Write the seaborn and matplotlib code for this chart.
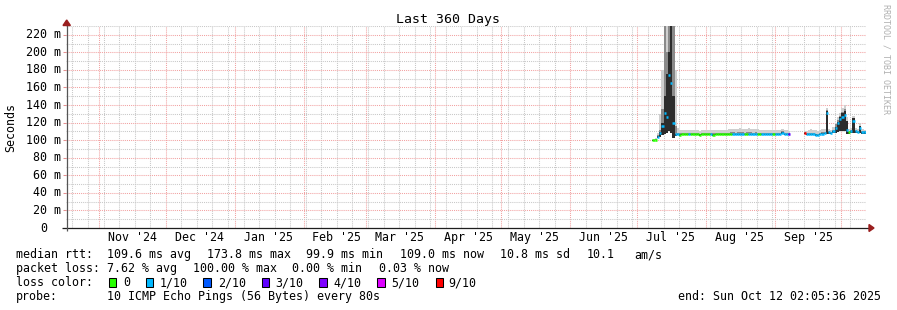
import numpy as np
import pandas as pd
import matplotlib
matplotlib.use("Agg")
import matplotlib.pyplot as plt
import matplotlib.dates as mdates
from matplotlib.patches import Rectangle, Polygon
from matplotlib.ticker import FixedLocator, MultipleLocator
import seaborn as sns

# ------------------------------------------------------------------ data
# one sample per day, 2025-07-08 .. 2025-10-12 (Sep 8-13: no data)
day_start = "2025-07-08"
day_end = "2025-10-12"
nan = np.nan

median_ms = [
    100.0, 100.5, 104.0, 108.0, 116.0, 131.0, 126.0, 174.0, 165.0, 120.0,   # Jul 8-17
    106.5, 106.5, 106.0, 106.5, 106.5, 106.5, 107.0, 106.5, 106.5, 106.5,   # Jul 18-27
    106.5, 106.0, 106.5, 106.5, 106.5, 106.5, 106.5, 106.0, 106.5, 106.5,   # Jul 28-Aug 6
    106.5, 106.5, 106.5, 106.5, 106.5, 106.5, 107.0, 106.5, 106.5, 106.5,   # Aug 7-16
    106.5, 106.5, 106.5, 106.5, 106.5, 106.5, 106.5, 106.5, 106.5, 106.5,   # Aug 17-26
    106.5, 106.5, 106.5, 106.5, 106.5, 106.5, 107.0, 106.5, 108.5, 106.5,   # Aug 27-Sep 5
    106.5, 106.5,                                                           # Sep 6-7
    nan, nan, nan, nan, nan, nan,                                           # Sep 8-13
    108.0, 107.0, 107.0, 107.0, 106.5, 106.0, 105.5, 107.0, 107.5, 108.0,   # Sep 14-23
    131.0, 109.0, 108.0, 110.0, 114.0, 120.0, 124.0,                        # Sep 24-30
    126.0, 129.0, 112.0, 109.0, 110.0, 122.0, 110.0, 109.0, 114.0, 109.0,   # Oct 1-10
    109.0, 109.0,                                                           # Oct 11-12
]
loss_tenths = [
    0, 0, 1, 1, 1, 1, 1, 1, 1, 1,
    1, 1, 0, 0, 0, 0, 1, 0, 0, 0,
    0, 0, 0, 0, 0, 0, 1, 0, 0, 0,
    0, 0, 0, 0, 0, 0, 1, 1, 1, 1,
    1, 0, 0, 1, 1, 1, 1, 0, 0, 1,
    1, 1, 1, 1, 0, 1, 1, 1, 1, 1,
    1, 3,
    0, 0, 0, 0, 0, 0,
    9, 1, 1, 1, 1, 1, 1, 1, 1, 1,
    1, 1, 1, 1, 1, 1, 1,
    1, 1, 1, 0, 1, 1, 1, 1, 1, 1,
    1, 1,
]
ping_min_ms = [
    99.5, 100.0, 102.0, 104.0, 106.0, 107.0, 108.0, 110.0, 108.0, 102.0,
    105.0, 105.5, 105.0, 105.5, 105.5, 105.5, 106.0, 105.5, 105.5, 105.5,
    105.5, 105.0, 105.5, 105.5, 105.5, 105.5, 105.5, 105.0, 105.5, 105.5,
    105.5, 105.5, 105.5, 105.5, 105.5, 105.5, 106.0, 105.5, 105.5, 105.5,
    105.5, 105.5, 105.5, 105.5, 105.5, 105.5, 105.5, 105.5, 105.5, 105.5,
    105.5, 105.5, 105.5, 105.5, 105.5, 105.5, 106.0, 105.5, 106.5, 105.5,
    105.5, 105.5,
    nan, nan, nan, nan, nan, nan,
    106.5, 106.0, 106.0, 106.0, 105.5, 105.0, 104.5, 106.0, 106.5, 107.0,
    107.5, 107.5, 107.0, 108.0, 108.0, 109.0, 110.0,
    110.0, 111.0, 107.0, 107.5, 108.5, 108.5, 108.5, 108.0, 108.0, 107.5,
    107.5, 107.5,
]
core_hi_ms = [
    100.2, 100.7, 104.5, 109.0, 120.0, 150.0, 175.0, 200.0, 235.0, 150.0,
    107.0, 107.0, 106.5, 107.0, 107.0, 107.0, 107.5, 107.0, 107.0, 107.0,
    107.0, 106.5, 107.0, 107.0, 107.0, 107.0, 107.0, 106.5, 107.0, 107.0,
    107.0, 107.0, 107.0, 107.0, 107.0, 107.0, 107.5, 107.0, 107.0, 107.0,
    107.0, 107.0, 107.0, 107.0, 107.0, 107.0, 107.0, 107.0, 107.0, 107.0,
    107.0, 107.0, 107.0, 107.0, 107.0, 107.0, 107.5, 107.0, 109.0, 107.0,
    107.0, 107.0,
    nan, nan, nan, nan, nan, nan,
    108.5, 107.5, 107.5, 107.5, 107.0, 106.5, 106.0, 107.5, 108.0, 108.5,
    133.0, 109.5, 108.5, 111.0, 115.0, 121.0, 126.0,
    131.0, 133.0, 122.0, 109.5, 110.5, 125.0, 110.5, 109.5, 116.0, 109.5,
    109.5, 109.5,
]
mid_hi_ms = [
    100.5, 101.0, 106.0, 112.0, 135.0, 235.0, 200.0, 235.0, 235.0, 235.0,
    116.0, 108.5, 108.0, 108.0, 108.0, 108.0, 108.5, 108.0, 108.0, 108.0,
    108.0, 107.5, 108.0, 108.0, 108.0, 108.0, 108.5, 108.0, 108.0, 108.0,
    108.0, 108.0, 108.5, 108.5, 108.5, 109.0, 109.0, 108.5, 109.0, 109.0,
    109.0, 108.5, 109.0, 109.0, 109.0, 108.5, 109.0, 108.5, 108.5, 108.5,
    108.5, 108.5, 108.0, 108.0, 108.0, 108.0, 108.5, 108.5, 110.0, 108.0,
    108.0, 108.0,
    nan, nan, nan, nan, nan, nan,
    109.0, 108.5, 108.5, 108.5, 108.0, 107.5, 107.0, 108.5, 109.0, 109.5,
    134.0, 110.0, 109.5, 112.0, 118.0, 123.0, 127.0,
    132.0, 135.0, 120.0, 110.5, 111.5, 125.0, 111.5, 110.5, 116.0, 110.5,
    110.5, 110.0,
]
ping_max_ms = [
    101.0, 102.0, 108.0, 130.0, 180.0, 235.0, 235.0, 235.0, 235.0, 235.0,
    180.0, 114.0, 112.0, 112.0, 111.5, 111.5, 112.0, 111.5, 111.5, 111.5,
    111.5, 111.0, 111.5, 111.5, 111.5, 111.5, 112.0, 111.5, 111.5, 111.5,
    111.5, 111.5, 112.0, 112.0, 112.5, 113.0, 113.0, 112.5, 113.0, 113.5,
    113.0, 112.5, 113.0, 113.5, 113.0, 112.5, 113.0, 112.5, 112.0, 112.0,
    112.0, 112.0, 111.5, 111.5, 111.5, 111.5, 112.0, 112.0, 113.0, 111.5,
    111.5, 111.0,
    nan, nan, nan, nan, nan, nan,
    110.0, 111.0, 112.0, 112.5, 112.0, 111.5, 111.0, 112.0, 112.5, 113.0,
    137.0, 113.0, 112.0, 115.0, 120.0, 126.0, 131.0,
    137.0, 140.0, 126.0, 113.0, 114.0, 128.0, 114.0, 113.0, 119.0, 113.0,
    112.0, 112.0,
]

loss_levels = [0, 1, 2, 3, 4, 5, 9]
loss_colors = ["#26ff00", "#00b8ff", "#0059ff", "#5e00ff", "#7e00ff", "#dd00ff", "#ff0000"]
loss_names = ["0", "1/10", "2/10", "3/10", "4/10", "5/10", "9/10"]

y_ticks = [0, 20, 40, 60, 80, 100, 120, 140, 160, 180, 200, 220]
y_tick_labels = ["0", "20 m", "40 m", "60 m", "80 m", "100 m", "120 m",
                 "140 m", "160 m", "180 m", "200 m", "220 m"]
month_labels = ["Nov '24", "Dec '24", "Jan '25", "Feb '25", "Mar '25", "Apr '25",
                "May '25", "Jun '25", "Jul '25", "Aug '25", "Sep '25"]
month_label_dates = ["2024-11-16", "2024-12-16", "2025-01-16", "2025-02-16",
                     "2025-03-16", "2025-04-16", "2025-05-16", "2025-06-16",
                     "2025-07-16", "2025-08-16", "2025-09-16"]
graph_end = "2025-10-12 02:05:36"
span_days = 360

title = "Last 360 Days"
ylabel = "Seconds"
watermark = "RRDTOOL / TOBI OETIKER"
rtt_items = ["median rtt:", "109.6 ms avg", "173.8 ms max", "99.9 ms min",
             "109.0 ms now", "10.8 ms sd", "10.1", "am/s"]
loss_items = ["packet loss:", "7.62 % avg", "100.00 % max", "0.00 % min", "0.03 % now"]
probe_text = "10 ICMP Echo Pings (56 Bytes) every 80s"
end_text = "end: Sun Oct 12 02:05:36 2025"

# ------------------------------------------------------------------ style
sns.set_theme(style="white")
plt.rcParams["font.family"] = ["DejaVu Sans Mono"]
FS = 8.4
W, H = 897, 310
fig = plt.figure(figsize=(W / 100, H / 100), dpi=100)
fig.patch.set_facecolor("white")

def fx(px):
    return px / W

def fy(py):
    return 1 - py / H

AX_L, AX_R, AX_T, AX_B = 66, 866, 26, 228
ax = fig.add_axes([fx(AX_L), fy(AX_B), (AX_R - AX_L) / W, (AX_B - AX_T) / H])
ax.set_facecolor("white")

end = pd.Timestamp(graph_end)
start = end - pd.Timedelta(days=span_days)
ax.set_xlim(start, end)
ax.set_ylim(0, 230)

dates = pd.date_range(day_start, day_end, freq="D")
lo = np.array(ping_min_ms)
# smoke layers
ax.bar(dates, np.array(ping_max_ms) - lo, bottom=lo, width=1.0, align="edge",
       color="#cfcfcf", linewidth=0, zorder=2)
ax.bar(dates, np.array(mid_hi_ms) - lo, bottom=lo, width=1.0, align="edge",
       color="#8a8a8a", linewidth=0, zorder=3)
ax.bar(dates, np.array(core_hi_ms) - lo, bottom=lo, width=1.0, align="edge",
       color="#2c2c2c", linewidth=0, zorder=4)

# median: one short dash per sample, coloured by packet loss
df = pd.DataFrame({"date": dates, "median": median_ms, "loss": loss_tenths})
df["sample"] = np.arange(len(df))
df = df[df["median"].notna()]
df_end = df.copy()
df_end["date"] = df_end["date"] + pd.Timedelta(days=1)
dashes = pd.concat([df, df_end]).sort_values(["sample", "date"], ignore_index=True)
sns.lineplot(data=dashes, x="date", y="median", hue="loss", units="sample",
             estimator=None, palette=dict(zip(loss_levels, loss_colors)),
             linewidth=1.8, legend=False, ax=ax, sort=False, zorder=5,
             solid_capstyle="butt")

# grid
ax.yaxis.set_major_locator(FixedLocator(y_ticks))
ax.yaxis.set_minor_locator(MultipleLocator(10))
ax.xaxis.set_major_locator(mdates.MonthLocator())
ax.xaxis.set_minor_locator(mdates.WeekdayLocator(byweekday=mdates.SU))
ax.set_axisbelow(True)
ax.grid(which="minor", color="#c8c8c8", linestyle=(0, (1, 1)), linewidth=0.75, zorder=0)
ax.grid(which="major", color="#f2a2a2", linestyle=(0, (1, 1)), linewidth=0.75, zorder=1)
ax.tick_params(axis="x", which="both", length=0, labelbottom=False)
ax.tick_params(axis="y", which="major", length=2.2, width=0.75, color="#e59090",
               labelleft=False, left=True)
ax.tick_params(axis="y", which="minor", length=0)
ax.set_xlabel("")
ax.set_ylabel("")
for s in ax.spines.values():
    s.set_visible(False)

# y tick labels
ytr = ax.get_yaxis_transform()
for v, lab in zip(y_ticks, y_tick_labels):
    xoff = -5.5 if lab != "0" else -19.0
    ax.text(xoff / 800, v, lab, transform=ytr, ha="right", va="center",
            fontsize=FS, color="black")

# x month labels
xtr = ax.get_xaxis_transform()
for d, lab in zip(month_label_dates, month_labels):
    ax.text(mdates.date2num(pd.Timestamp(d)), -13.0 / 202, lab, transform=xtr,
            ha="center", va="baseline", fontsize=FS, color="black")

# axes lines with arrows
axis_col = "#1e1e1e"
arrow_col = "#9a1e1e"
ax.plot([-4 / 800, 803 / 800], [0, 0], transform=ax.transAxes, color=axis_col,
        lw=0.9, clip_on=False, zorder=6, solid_capstyle="butt")
ax.add_patch(Polygon([[803 / 800, 3.5 / 202], [808 / 800, 0], [803 / 800, -3.5 / 202]],
                     closed=True, transform=ax.transAxes, color=arrow_col,
                     clip_on=False, zorder=7))
ax.plot([0.7 / 800, 0.7 / 800], [-3 / 202, 203 / 202], transform=ax.transAxes,
        color="#555555", lw=0.9, clip_on=False, zorder=6, solid_capstyle="butt")
ax.add_patch(Polygon([[-3 / 800, 202.5 / 202], [0.7 / 800, 208 / 202], [4.4 / 800, 202.5 / 202]],
                     closed=True, transform=ax.transAxes, color=arrow_col,
                     clip_on=False, zorder=7))

# titles
fig.text(fx(448), fy(19), title, ha="center", va="center", fontsize=9.5, color="black")
fig.text(fx(11), fy(127), ylabel, ha="center", va="center", rotation=90,
         fontsize=FS, color="black")
fig.text(fx(886), fy(4), watermark, ha="center", va="top", rotation=270,
         fontsize=6.0, color="#b0b0b0")

# legend block
rtt_x = [15.5, 106.8, 207.2, 306.2, 399.6, 500.2, 586.2, 634.6]
for x, t in zip(rtt_x, rtt_items):
    fig.text(fx(x), fy(258.3), t, ha="left", va="baseline", fontsize=FS, color="black")
loss_x = [15.5, 106.8, 192.8, 292.2, 378.8]
for x, t in zip(loss_x, loss_items):
    fig.text(fx(x), fy(272.3), t, ha="left", va="baseline", fontsize=FS, color="black")
fig.text(fx(15.5), fy(286.2), "loss color:", ha="left", va="baseline", fontsize=FS, color="black")
sw_x = [108.7, 145.7, 203.3, 261.7, 319.3, 377.3, 435.7]
lab_x = [122.8, 159.5, 217.8, 275.5, 333.8, 391.2, 448.6]
for sx, lx, c, n in zip(sw_x, lab_x, loss_colors, loss_names):
    fig.patches.append(Rectangle((fx(sx), fy(286.6)), 7.6 / W, 9.0 / H,
                                 transform=fig.transFigure, facecolor=c,
                                 edgecolor="black", linewidth=0.75))
    fig.text(fx(lx), fy(286.2), n, ha="left", va="baseline", fontsize=FS, color="black")
fig.text(fx(15.5), fy(300), "probe:", ha="left", va="baseline", fontsize=FS, color="black")
fig.text(fx(106.8), fy(300), probe_text, ha="left", va="baseline", fontsize=FS, color="black")
fig.text(fx(880.5), fy(300), end_text, ha="right", va="baseline", fontsize=FS, color="black")

fig.savefig("out.png", dpi=100, facecolor="white")
